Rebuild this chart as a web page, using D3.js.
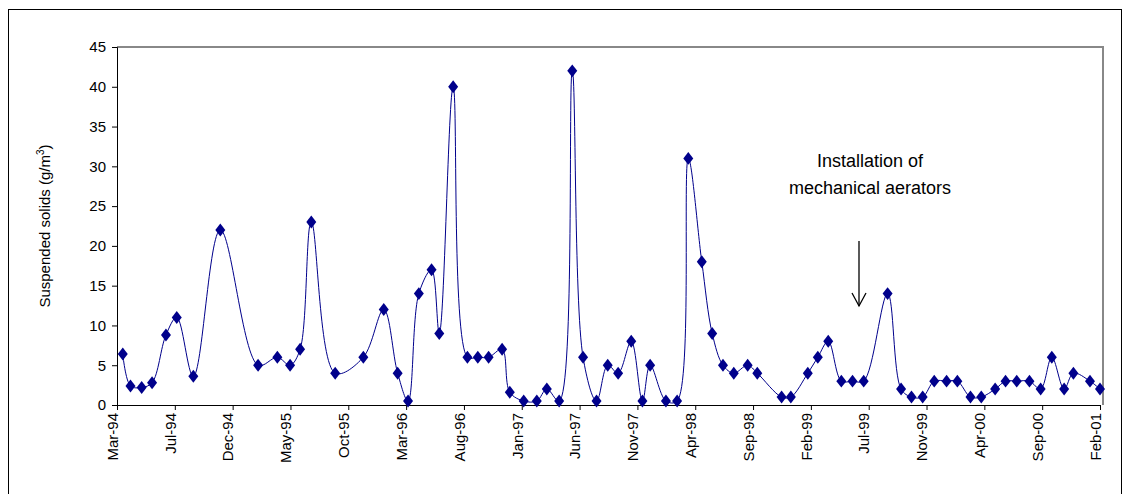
<!DOCTYPE html>
<html><head><meta charset="utf-8">
<script src="https://cdn.jsdelivr.net/npm/d3@7"></script>
<style>body{margin:0;background:#fff}text{font-family:"Liberation Sans",Arial,sans-serif}</style>
</head><body>
<script>
var dates = ["1994-03-16","1994-04-05","1994-05-04","1994-05-31","1994-07-06","1994-08-03","1994-09-15","1994-11-24",
  "1995-03-02","1995-04-21","1995-05-24","1995-06-19","1995-07-18","1995-09-18","1995-11-30",
  "1996-01-22","1996-02-27","1996-03-25","1996-04-22","1996-05-25","1996-06-14","1996-07-20","1996-08-26","1996-09-22","1996-10-20","1996-11-24","1996-12-14",
  "1997-01-19","1997-02-22","1997-03-20","1997-04-21","1997-05-25","1997-06-22","1997-07-27","1997-08-25","1997-09-21","1997-10-25","1997-11-23","1997-12-13",
  "1998-01-23","1998-02-21","1998-03-22","1998-04-26","1998-05-23","1998-06-20","1998-07-18","1998-08-23","1998-09-17","1998-11-19","1998-12-13",
  "1999-01-26","1999-02-21","1999-03-20","1999-04-23","1999-05-22","1999-06-20","1999-08-21","1999-09-25","1999-10-22","1999-11-20","1999-12-20",
  "2000-01-21","2000-02-18","2000-03-23","2000-04-20","2000-05-26","2000-06-22","2000-07-21","2000-08-23","2000-09-21","2000-10-20","2000-11-21","2000-12-15",
  "2001-01-27","2001-02-22"];
var solids = [6.4,2.4,2.2,2.8,8.8,11,3.6,22,
  5,6,5,7,23,4,6,
  12,4,0.5,14,17,9,40,6,6,6,7,1.6,
  0.5,0.5,2,0.5,42,6,0.5,5,4,8,0.5,5,
  0.5,0.5,31,18,9,5,4,5,4,1,1,
  4,6,8,3,3,3,14,2,1,1,3,
  3,3,1,1,2,3,3,3,2,6,2,4,
  3,2];
var yTicks = [0,5,10,15,20,25,30,35,40,45];

var W = 1130, H = 494;
var m = {left:117, top:47, right:1103, bottom:405};
var parse = d3.timeParse("%Y-%m-%d");
var data = dates.map(function(d,i){ return {date: parse(d), v: solids[i]}; });
var start = new Date(1994,2,1);
var tickDates = d3.range(0,18).map(function(k){ return d3.timeDay.offset(start, k*150); });

var svg = d3.select("body").append("svg").attr("width",W).attr("height",H);
svg.append("rect").attr("x",8.5).attr("y",9.5).attr("width",1113).attr("height",490)
  .attr("fill","none").attr("stroke","#000").attr("stroke-width",1);

var x = d3.scaleTime().domain([start, tickDates[17]]).range([m.left, m.right-3]);
var y = d3.scaleLinear().domain([0,45]).range([m.bottom, m.top]);

// plot frame
svg.append("path").attr("d","M"+m.left+","+m.top+"H"+m.right+"V"+m.bottom)
  .attr("fill","none").attr("stroke","#888").attr("stroke-width",2);

svg.append("g").attr("transform","translate("+m.left+",0)")
  .call(d3.axisLeft(y).tickValues(yTicks).tickSize(5).tickPadding(6))
  .call(function(g){ g.selectAll("text").attr("font-size",15).attr("fill","#000"); g.select(".domain").attr("stroke","#000"); });

var xa = svg.append("g").attr("transform","translate(0,"+m.bottom+")")
  .call(d3.axisBottom(x).tickValues(tickDates).tickFormat(d3.timeFormat("%b-%y")).tickSize(5).tickSizeOuter(0));
xa.select(".domain").attr("stroke","#000");
xa.selectAll("text").attr("font-size",15).attr("fill","#000")
  .attr("transform","rotate(-90)").attr("text-anchor","end").attr("x",-8).attr("y",-5).attr("dy","0.35em");

svg.append("text").attr("transform","translate(50,226) rotate(-90)").attr("text-anchor","middle")
  .attr("font-size",15).html('Suspended solids (g/m<tspan dy="-6" font-size="10">3</tspan><tspan dy="6">)</tspan>');

var line = d3.line().x(function(d){return x(d.date);}).y(function(d){return y(d.v);}).curve(d3.curveCatmullRom.alpha(0.5));
svg.append("path").datum(data).attr("d",line).attr("fill","none").attr("stroke","#00008b").attr("stroke-width",1);

svg.selectAll(".pt").data(data).enter().append("path").attr("class","pt")
  .attr("d", d3.symbol().type(d3.symbolDiamond).size(60))
  .attr("transform",function(d){ return "translate("+x(d.date)+","+y(d.v)+") scale(1.2,0.9)"; })
  .attr("fill","#00008b");

svg.append("text").attr("x",870).attr("y",167).attr("text-anchor","middle").attr("font-size",18).text("Installation of");
svg.append("text").attr("x",870).attr("y",194).attr("text-anchor","middle").attr("font-size",18).text("mechanical aerators");
svg.append("line").attr("x1",859).attr("y1",241).attr("x2",859).attr("y2",306).attr("stroke","#000").attr("stroke-width",1.3);
svg.append("path").attr("d","M852,293L859,306L866,293").attr("fill","none").attr("stroke","#000").attr("stroke-width",1.3);
</script>
</body></html>
